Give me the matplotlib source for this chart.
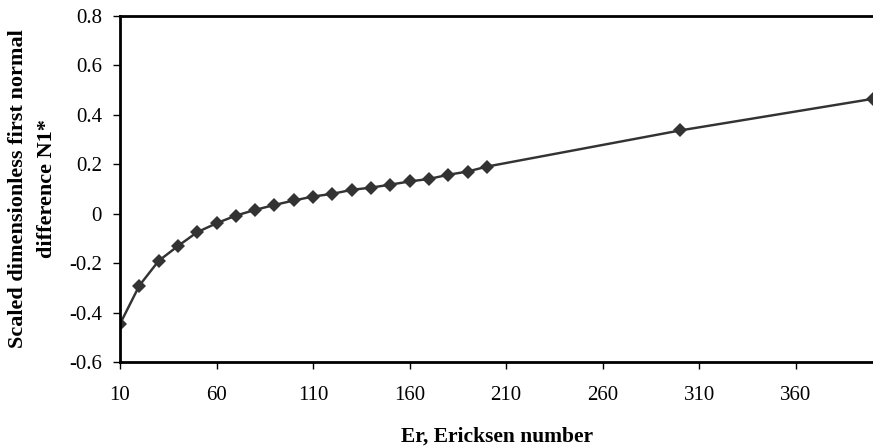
from matplotlib import pyplot as plt

plt.rcParams['font.family'] = ['Liberation Serif', 'DejaVu Serif']

# Ericksen number and scaled first normal stress difference
er = [10, 20, 30, 40, 50, 60, 70, 80, 90, 100, 110, 120, 130, 140, 150,
      160, 170, 180, 190, 200, 300, 400]
n1 = [-0.446, -0.291, -0.191, -0.131, -0.075, -0.039, -0.008, 0.015, 0.035,
      0.053, 0.069, 0.080, 0.096, 0.105, 0.117, 0.130, 0.140, 0.157, 0.170,
      0.190, 0.336, 0.464]

xticks = [10, 60, 110, 160, 210, 260, 310, 360]
yticks = [-0.6, -0.4, -0.2, 0, 0.2, 0.4, 0.6, 0.8]
ytick_labels = ['-0.6', '-0.4', '-0.2', '0', '0.2', '0.4', '0.6', '0.8']

fig = plt.figure(figsize=(8.73, 4.46), dpi=100)
ax = fig.add_axes([0.1375, 0.1883, 0.8625, 0.7765])

ax.plot(er, n1, color='#333333', lw=1.75, marker='D', markersize=7.5,
        markeredgewidth=0, markerfacecolor='#333333')

ax.set_xlim(10, 400)
ax.set_ylim(-0.6, 0.8)
ax.set_xticks(xticks)
ax.set_yticks(yticks)
ax.set_yticklabels(ytick_labels)
ax.tick_params(direction='out', length=5, width=1, labelsize=15)
ax.tick_params(axis='x', pad=12)
ax.tick_params(axis='y', pad=8)

for s in ['left', 'bottom', 'top']:
    ax.spines[s].set_linewidth(2)
ax.spines['right'].set_visible(False)

# axis titles placed by hand, centred like the original
fig.text(0.569, 0.0202, 'Er, Ericksen number', fontsize=15.5,
         fontweight='bold', ha='center', va='center')
fig.text(0.0372, 0.578, 'Scaled dimensionless first normal\ndifference N1*',
         fontsize=16, fontweight='bold', ha='center', va='center',
         rotation=90, linespacing=1.55, multialignment='center')

fig.savefig('out.png', dpi=100)
